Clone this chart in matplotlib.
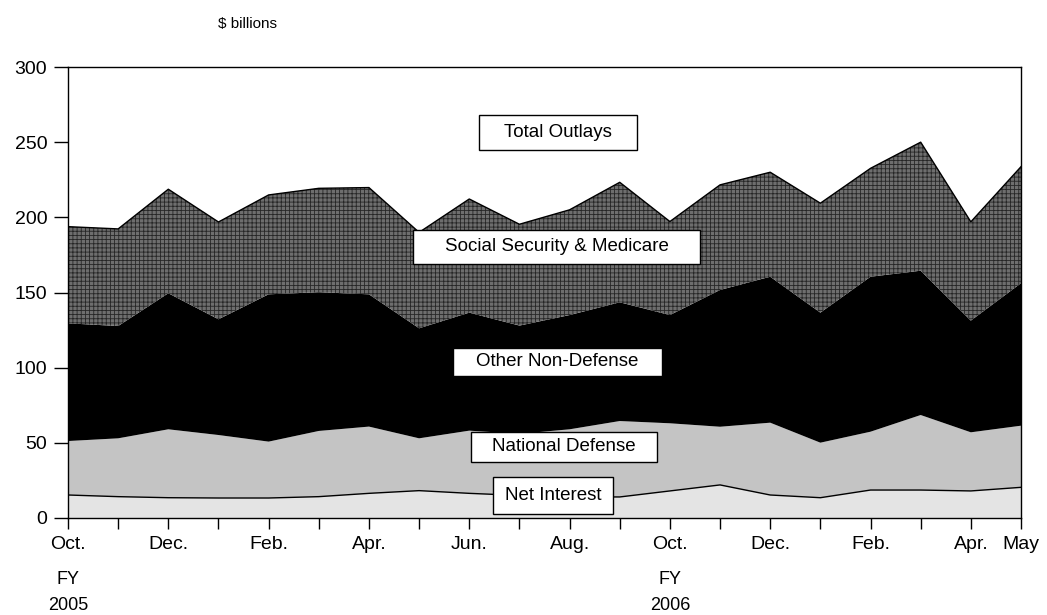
import matplotlib
matplotlib.use("Agg")
import matplotlib.pyplot as plt
import matplotlib.transforms as mtransforms
from matplotlib.patches import Rectangle
import numpy as np

plt.rcParams['font.family'] = ['Liberation Sans', 'DejaVu Sans']
plt.rcParams['hatch.linewidth'] = 0.6

months = ['Oct.', 'Nov.', 'Dec.', 'Jan.', 'Feb.', 'Mar.', 'Apr.', 'May', 'Jun.', 'Jul.',
          'Aug.', 'Sep.', 'Oct.', 'Nov.', 'Dec.', 'Jan.', 'Feb.', 'Mar.', 'Apr.', 'May']
shown_ticks = [0, 2, 4, 6, 8, 10, 12, 14, 16, 18, 19]
fy_labels = {0: '2005', 12: '2006'}

net_interest = [15.3, 14.2, 13.5, 13.3, 13.3, 14.2, 16.4, 18.2, 16.4, 15.0,
                14.0, 14.0, 18.0, 22.0, 15.3, 13.5, 18.6, 18.6, 18.0, 20.4]
national_defense = [35.9, 38.8, 45.5, 41.9, 37.5, 43.7, 44.4, 34.8, 41.7, 41.0,
                    45.0, 50.5, 45.0, 38.7, 48.1, 36.6, 38.8, 49.9, 39.0, 41.0]
other_non_defense = [78.3, 74.7, 90.5, 77.0, 98.0, 92.3, 88.0, 73.2, 78.5, 72.0,
                     76.0, 79.0, 72.0, 91.0, 97.1, 86.5, 103.1, 96.0, 74.3, 94.8]
ss_medicare = [64.3, 64.6, 69.2, 64.7, 66.1, 69.1, 71.0, 63.8, 75.6, 67.4,
               70.0, 79.8, 62.2, 69.9, 69.5, 72.8, 72.1, 85.5, 65.7, 77.5]

x = np.arange(len(months))
c1 = np.array(net_interest)
c2 = c1 + np.array(national_defense)
c3 = c2 + np.array(other_non_defense)
c4 = c3 + np.array(ss_medicare)

fig = plt.figure(figsize=(10.47, 6.15), dpi=100)
ax = fig.add_axes([68/1047, 1 - 518/615, (1021 - 68)/1047, (518 - 67)/615])

ax.fill_between(x, 0, c1, facecolor='#e4e4e4', linewidth=0)
ax.fill_between(x, c1, c2, facecolor='#c4c4c4', linewidth=0)
ax.fill_between(x, c2, c3, facecolor='black', linewidth=0)
ax.fill_between(x, c3, c4, facecolor='#6e6e6e', edgecolor='#262626', hatch='++++', linewidth=0)
ax.plot(x, c4, color='black', lw=1.0)
ax.plot(x, c1, color='black', lw=1.0)

ax.set_xlim(0, 19)
ax.set_ylim(0, 300)
ax.set_yticks([0, 50, 100, 150, 200, 250, 300])
ax.set_xticks(x, minor=True)
ax.set_xticks(shown_ticks)
ax.set_xticklabels([months[i] for i in shown_ticks])
ax.tick_params(axis='x', which='both', direction='out', length=8, width=1, labelsize=14, pad=5)
ax.tick_params(axis='y', direction='out', length=10, width=1, labelsize=14, pad=5)
for s in ax.spines.values():
    s.set_linewidth(1.0)

blend = mtransforms.blended_transform_factory(ax.transData, fig.transFigure)
for i, yr in fy_labels.items():
    fig.text(x[i], 1 - 579/615, 'FY', transform=blend, ha='center', va='center', fontsize=13)
    fig.text(x[i], 1 - 605/615, yr, transform=blend, ha='center', va='center', fontsize=13)

fig.text(247/1047, 1 - 24/615, '$ billions', ha='center', va='center', fontsize=11)

labels = [
    ('Total Outlays', 8.194, 11.344, 244.8, 268.1),
    ('Social Security & Medicare', 6.878, 12.600, 169.0, 191.6),
    ('Other Non-Defense', 7.675, 11.842, 94.5, 113.1),
    ('National Defense', 8.034, 11.743, 37.3, 57.2),
    ('Net Interest', 8.473, 10.865, 2.7, 27.3),
]
for txt, x0, x1, y0, y1 in labels:
    ax.add_patch(Rectangle((x0, y0), x1 - x0, y1 - y0, facecolor='white',
                           edgecolor='black', linewidth=1.0, zorder=3))
    ax.text((x0 + x1) / 2, (y0 + y1) / 2, txt, ha='center', va='center',
            fontsize=13.5, zorder=4)

fig.savefig('out.png', dpi=100)
